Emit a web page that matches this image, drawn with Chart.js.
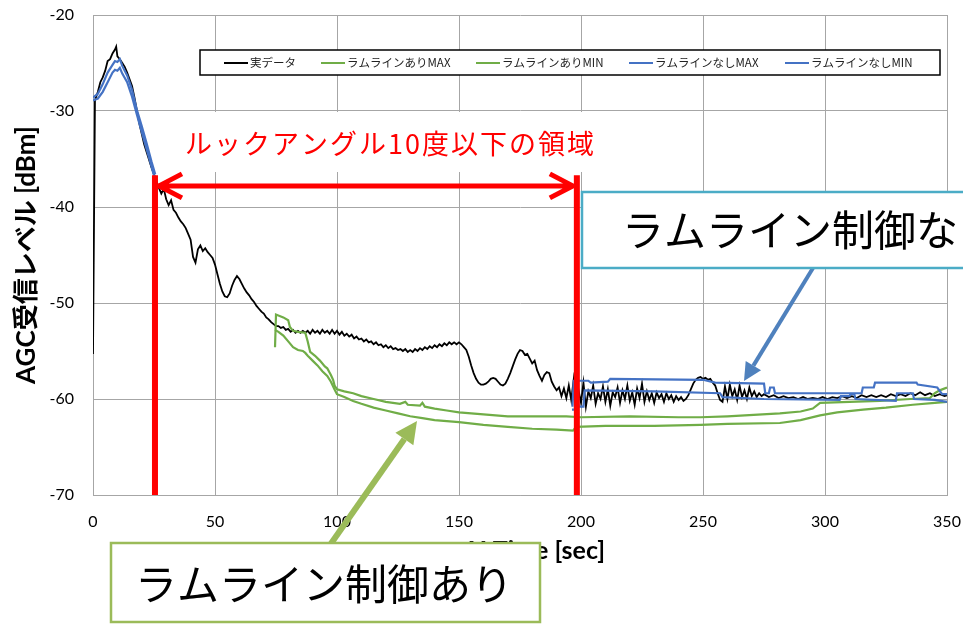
<!DOCTYPE html>
<html>
<head>
<meta charset="utf-8">
<script src="https://cdn.jsdelivr.net/npm/chart.js@4.4.0/dist/chart.umd.min.js"></script>
<style>
html, body { margin: 0; padding: 0; background: #fff; }
canvas { display: block; }
</style>
</head>
<body>
<canvas id="c" width="963" height="624"></canvas>
<script>
// axis ticks
const xTicks = [0, 50, 100, 150, 200, 250, 300, 350];
const yTicks = [-70, -60, -50, -40, -30, -20];

// 実データ (time [sec], level [dBm])
const realT = [0, 0.8, 2, 3, 4, 5, 6, 7, 8, 9, 9.5, 10, 11, 12, 13, 14, 15, 16, 17, 18, 19, 20,
  21, 22, 23, 24, 25, 26, 27, 28, 29, 30, 31, 32, 33, 34, 35, 36, 37, 38, 39, 40,
  41, 42, 43, 44, 45, 46, 47, 48, 49, 50, 51, 52, 53, 54, 55, 56, 57, 58, 59, 60,
  61, 62, 63, 64, 65, 66, 67, 68, 69, 70, 71, 72, 73, 74, 75, 76, 77, 78, 79, 80,
  81, 82, 83, 84, 85, 86, 87, 88, 89, 90, 91, 92, 93, 94, 95, 96, 97, 98, 99, 100,
  101, 102, 103, 104, 105, 106, 107, 108, 109, 110, 111, 112, 113, 114, 115, 116, 117, 118, 119, 120,
  121, 122, 123, 124, 125, 126, 127, 128, 129, 130, 131, 132, 133, 134, 135, 136, 137, 138, 139, 140,
  141, 142, 143, 144, 145, 146, 147, 148, 149, 150, 151, 152, 153, 154, 155, 156, 157, 158, 159, 160,
  161, 162, 163, 164, 165, 166, 167, 168, 169, 170, 171, 172, 173, 174, 175, 176, 177, 178, 179, 180,
  181, 182, 183, 184, 185, 186, 187, 188, 189, 190, 191, 192, 193, 194, 195, 196, 197, 198, 199, 200,
  201, 202, 203, 204, 205, 206, 207, 208, 209, 210, 211, 212, 213, 214, 215, 216, 217, 218, 219, 220,
  221, 222, 223, 224, 225, 226, 227, 228, 229, 230, 231, 232, 233, 234, 235, 236, 237, 238, 239, 240,
  241, 242, 243, 244, 245, 246, 247, 248, 249, 250, 251, 252, 253, 254, 255, 256, 257, 258, 259, 260,
  261, 262, 263, 264, 265, 266, 267, 268, 269, 270, 271, 272, 273, 274, 275, 277, 279, 281, 283, 285,
  287, 289, 291, 293, 295, 297, 299, 301, 303, 305, 307, 309, 311, 313, 315, 317, 319, 321, 323, 325,
  327, 329, 331, 333, 335, 337, 339, 341, 343, 345, 347, 349, 350];
const realV = [-55.3, -28.9, -28.0, -27.0, -26.5, -25.8, -24.8, -24.6, -24.0, -23.6, -23.3, -24.3, -24.6, -25.0, -25.4, -26.0, -26.7, -27.4, -28.6, -30.0, -31.3, -32.4,
  -33.5, -34.3, -35.1, -35.9, -36.6, -37.3, -38.0, -38.6, -38.1, -39.2, -39.8, -39.3, -40.3, -40.6, -41.1, -41.5, -41.8, -42.2, -42.8, -43.4,
  -45.2, -45.8, -44.4, -44.0, -44.6, -44.3, -44.7, -45.0, -45.3, -46.0, -47.0, -48.0, -48.8, -49.3, -49.4, -49.0, -48.2, -47.6, -47.2, -47.5,
  -48.0, -48.5, -48.9, -49.2, -49.6, -49.9, -50.3, -50.6, -50.9, -51.1, -51.5, -51.7, -52.0, -52.2, -52.4, -52.4, -52.6, -52.5, -52.8, -52.7,
  -53.0, -52.8, -53.1, -52.9, -53.1, -52.9, -53.1, -52.9, -53.2, -52.8, -53.1, -52.9, -53.2, -52.8, -53.1, -52.9, -53.2, -52.8, -53.2, -52.9,
  -53.3, -53.0, -53.4, -53.2, -53.5, -53.3, -53.7, -53.5, -53.8, -53.7, -54.0, -53.8, -54.1, -54.0, -54.3, -54.1, -54.4, -54.3, -54.6, -54.4,
  -54.7, -54.5, -54.8, -54.7, -54.9, -54.8, -55.0, -54.8, -55.1, -54.9, -55.1, -54.8, -55.0, -54.7, -54.9, -54.6, -54.8, -54.5, -54.7, -54.4,
  -54.6, -54.3, -54.5, -54.2, -54.4, -54.1, -54.3, -54.1, -54.3, -54.1, -54.3, -54.6, -54.9, -55.6, -56.5, -57.3, -57.9, -58.3, -58.5, -58.5,
  -58.4, -58.2, -57.9, -57.8, -57.9, -58.2, -58.5, -58.6, -58.4, -57.9, -57.3, -56.6, -55.9, -55.3, -54.9, -55.0, -55.4, -55.3, -55.8, -56.3,
  -56.0, -57.0, -57.6, -58.1, -57.5, -57.2, -57.3, -58.2, -58.7, -59.1, -58.8, -59.7, -58.9, -59.9, -58.6, -60.1, -58.0, -60.6, -59.1, -60.4,
  -58.3, -60.8, -59.2, -59.9, -58.6, -60.5, -59.4, -60.0, -58.7, -60.3, -59.0, -60.7, -59.3, -59.8, -58.8, -60.4, -59.1, -60.0, -58.6, -60.2,
  -59.3, -60.6, -58.9, -59.9, -58.4, -60.3, -59.2, -60.1, -59.4, -60.4, -59.3, -59.9, -59.5, -60.3, -59.4, -60.0, -59.6, -60.3, -59.7, -60.1,
  -59.8, -60.2, -60.0, -59.6, -59.0, -58.4, -58.0, -57.8, -57.7, -57.9, -57.8, -58.0, -57.9, -58.3, -58.6, -59.4, -60.1, -60.3, -58.7, -60.0,
  -58.5, -59.7, -59.0, -60.1, -58.6, -59.8, -59.1, -60.0, -58.8, -59.7, -59.2, -59.8, -59.4, -59.7, -59.5, -59.8, -59.6, -59.9, -59.7, -59.9,
  -59.8, -60.0, -59.8, -60.0, -59.9, -60.0, -59.8, -60.0, -59.8, -59.9, -59.7, -59.9, -59.7, -59.9, -59.6, -59.8, -59.6, -59.8, -59.6, -59.8,
  -59.5, -59.7, -59.5, -59.7, -59.4, -59.6, -59.3, -59.6, -59.4, -59.7, -59.5, -59.7, -59.6];

// ラムラインあり MAX / MIN
const ariMaxT = [74.6, 75, 78, 80, 80.7, 82, 84, 87, 88, 89, 91, 93, 95, 96, 97.5, 98.4, 99, 100, 103, 106.6,
  110, 115, 120, 125.8, 128, 129, 134, 135, 136, 140, 145, 150, 160, 170, 180, 194, 200, 220, 240, 249,
  260, 281.5, 290, 295, 298, 310, 322.5, 335, 343, 345, 347, 350];
const ariMaxV = [-54.6, -51.2, -51.5, -51.8, -52.5, -52.9, -53.0, -53.1, -54.0, -55.1, -55.5, -56.0, -56.6, -56.8, -57.5, -58.0, -58.6, -59.0, -59.2, -59.4,
  -59.7, -60.0, -60.3, -60.5, -60.3, -60.6, -60.7, -60.4, -60.8, -61.0, -61.2, -61.4, -61.6, -61.8, -61.8, -61.8, -61.9, -61.8, -61.9, -61.9,
  -61.8, -61.5, -61.3, -61.0, -60.4, -60.3, -60.2, -60.0, -59.9, -59.4, -59.1, -58.8];
const ariMinT = [74.6, 76, 78, 80, 82, 84, 86, 87, 88, 90, 92, 94, 96, 97.5, 99, 100, 103, 106.6, 110, 115,
  120, 125, 130, 135, 140, 150, 160, 170, 180, 190, 196.7, 198, 210, 230, 249, 260, 281.5, 290, 298, 305,
  315.6, 325, 336, 345, 350];
const ariMinV = [-52.8, -53.0, -53.4, -54.0, -54.6, -54.9, -55.0, -55.2, -55.5, -56.0, -56.5, -57.1, -57.6, -58.2, -59.0, -59.5, -59.8, -60.2, -60.5, -60.9,
  -61.2, -61.5, -61.8, -62.0, -62.2, -62.4, -62.7, -62.9, -63.1, -63.2, -63.3, -62.9, -62.8, -62.8, -62.7, -62.6, -62.5, -62.2, -61.7, -61.4,
  -61.1, -60.9, -60.6, -60.4, -60.3];

// ラムラインなし MAX / MIN (null = no data)
const nashiMaxT = [0, 2, 4, 6, 8, 9, 10, 11, 12, 14, 16, 18, 20, 22, 24, 25.5, 100,
  196.5, 197, 203, 204, 211, 212, 250, 255, 275, 275.5, 277, 277.5, 279, 279.5, 315, 315.5, 320, 320.5, 337.5, 338, 346, 348, 350];
const nashiMaxV = [-28.6, -28.2, -27.2, -26.0, -25.2, -24.8, -24.9, -24.6, -25.3, -26.3, -27.8, -29.9, -31.6, -33.4, -35.3, -36.6, null,
  -60.8, -58.1, -58.1, -58.3, -58.2, -57.9, -58.0, -58.3, -58.4, -59.4, -59.4, -58.8, -58.8, -59.4, -59.4, -58.8, -58.8, -58.3, -58.3, -58.5, -58.8, -59.5, -59.5];
const nashiMinT = [0, 2, 4, 6, 8, 9, 10, 11, 12, 14, 16, 18, 20, 22, 24, 25.5, 100,
  196.3, 197.5, 197.8, 198.5, 199, 201, 201.5, 230, 257, 258, 275, 306, 306.5, 310, 310.5, 312, 312.5, 329, 329.5, 336, 336.5, 345, 350];
const nashiMinV = [-28.9, -28.7, -28.0, -27.0, -26.0, -25.7, -25.8, -25.5, -26.1, -27.0, -28.5, -30.4, -32.2, -34.0, -35.8, -37.2, null,
  -61.1, -61.1, -58.9, -58.9, -60.8, -60.8, -59.1, -59.2, -59.4, -59.8, -60.0, -60.1, -59.7, -59.7, -59.5, -59.5, -60.0, -60.2, -59.4, -59.4, -60.0, -60.1, -60.3];

function pts(t, v) {
    return t.map((x, i) => ({ x: x, y: v[i] }));
}

const jp = "'Noto Sans CJK JP', sans-serif";
const lat = "Lato, 'Noto Sans CJK JP', sans-serif";
const gridColor = "#a6a6a6";

function arrow(c, x1, y1, x2, y2, len, half) {
    const a = Math.atan2(y2 - y1, x2 - x1);
    const bx = x2 - len * Math.cos(a), by = y2 - len * Math.sin(a);
    c.beginPath();
    c.moveTo(x1, y1);
    c.lineTo(bx, by);
    c.stroke();
    c.beginPath();
    c.moveTo(x2, y2);
    c.lineTo(bx + half * Math.sin(a), by - half * Math.cos(a));
    c.lineTo(bx - half * Math.sin(a), by + half * Math.cos(a));
    c.closePath();
    c.fill();
}

const annot = {
    id: "annot",
    afterDraw(chart) {
        const c = chart.ctx;
        const xs = chart.scales.x, ys = chart.scales.y;
        c.save();

        // legend
        c.fillStyle = "#fff";
        c.fillRect(200, 50, 740, 25);
        c.strokeStyle = "#000";
        c.lineWidth = 1.5;
        c.strokeRect(200, 50, 740, 25);
        const lx = [224, 321, 476, 629, 785];
        c.font = "11.5px " + jp;
        c.textBaseline = "middle";
        chart.data.datasets.forEach((d, i) => {
            c.strokeStyle = d.borderColor;
            c.lineWidth = 2;
            c.beginPath();
            c.moveTo(lx[i], 63);
            c.lineTo(lx[i] + 24, 63);
            c.stroke();
            c.fillStyle = "#222";
            c.fillText(d.label, lx[i] + 26, 63);
        });

        // look angle region label
        c.fillStyle = "#fff";
        c.fillRect(163, 112, 452, 60);
        c.fillStyle = "#ff0000";
        c.font = "27px " + jp;
        c.letterSpacing = "2px";
        c.fillText("ルックアングル10度以下の領域", 185, 144);
        c.letterSpacing = "0px";

        // red markers
        const xa = xs.getPixelForValue(25.4), xb = xs.getPixelForValue(198.3);
        const yTop = ys.getPixelForValue(-36.7), yArr = ys.getPixelForValue(-37.8);
        c.strokeStyle = "#ff0000";
        c.lineWidth = 6;
        c.beginPath();
        c.moveTo(xa, yTop); c.lineTo(xa, ys.bottom);
        c.moveTo(xb, yTop); c.lineTo(xb, ys.bottom);
        c.stroke();
        c.lineWidth = 5;
        c.lineJoin = "miter";
        c.beginPath();
        c.moveTo(xa + 3, yArr); c.lineTo(xb - 3, yArr);
        c.moveTo(xa + 27, yArr - 12); c.lineTo(xa + 4, yArr); c.lineTo(xa + 27, yArr + 12);
        c.moveTo(xb - 27, yArr - 12); c.lineTo(xb - 4, yArr); c.lineTo(xb - 27, yArr + 12);
        c.stroke();

        // x axis title
        c.fillStyle = "#000";
        c.font = "bold 25px " + lat;
        c.textAlign = "center";
        c.fillText("X-Time [sec]", 537, 551);
        c.textAlign = "left";

        // callout: with ram line control
        c.strokeStyle = "#9bbb59";
        c.fillStyle = "#9bbb59";
        c.lineWidth = 6;
        arrow(c, 330, 545, 417, 421, 22, 11);
        c.fillStyle = "#fff";
        c.fillRect(111, 543, 429, 79);
        c.lineWidth = 2.5;
        c.strokeRect(111, 543, 429, 79);
        c.fillStyle = "#000";
        c.font = "42px " + jp;
        c.fillText("ラムライン制御あり", 135, 584);

        // callout: without ram line control
        c.strokeStyle = "#4f81bd";
        c.fillStyle = "#4f81bd";
        c.lineWidth = 4;
        arrow(c, 813, 268, 744, 381, 18, 9);
        c.fillStyle = "#fff";
        c.fillRect(582, 192, 400, 76);
        c.strokeStyle = "#4bacc6";
        c.lineWidth = 2.5;
        c.strokeRect(582, 192, 400, 76);
        c.fillStyle = "#000";
        c.font = "42px " + jp;
        c.fillText("ラムライン制御なし", 622, 230);

        c.restore();
    }
};

new Chart(document.getElementById("c"), {
    type: "line",
    data: {
        datasets: [
            { label: "実データ", data: pts(realT, realV), borderColor: "#000000", borderWidth: 1.8, order: 5 },
            { label: "ラムラインありMAX", data: pts(ariMaxT, ariMaxV), borderColor: "#70ad47", borderWidth: 2.2, order: 4 },
            { label: "ラムラインありMIN", data: pts(ariMinT, ariMinV), borderColor: "#70ad47", borderWidth: 2.2, order: 3 },
            { label: "ラムラインなしMAX", data: pts(nashiMaxT, nashiMaxV), borderColor: "#4472c4", borderWidth: 2.2, order: 2 },
            { label: "ラムラインなしMIN", data: pts(nashiMinT, nashiMinV), borderColor: "#4472c4", borderWidth: 2.2, order: 1 },
        ],
    },
    options: {
        responsive: false,
        animation: false,
        devicePixelRatio: 1,
        layout: { padding: { top: 15, right: 16, left: 0, bottom: 0 } },
        elements: { point: { radius: 0 }, line: { tension: 0 } },
        plugins: { legend: { display: false }, tooltip: { enabled: false } },
        scales: {
            x: {
                type: "linear",
                min: 0,
                max: 350,
                afterBuildTicks: (s) => { s.ticks = xTicks.map((v) => ({ value: v })); },
                afterFit: (s) => { s.height = 129; s.paddingLeft = 0; s.paddingRight = 0; },
                grid: { color: gridColor, drawTicks: false },
                border: { color: gridColor },
                ticks: { padding: 17, color: "#000", font: { family: lat, size: 16 } },
            },
            y: {
                min: -70,
                max: -20,
                afterBuildTicks: (s) => { s.ticks = yTicks.map((v) => ({ value: v })); },
                afterFit: (s) => { s.width = 93; s.paddingTop = 0; s.paddingBottom = 0; },
                grid: { color: gridColor, drawTicks: false },
                border: { color: gridColor },
                ticks: { padding: 19, color: "#000", font: { family: lat, size: 16 } },
                title: {
                    display: true,
                    text: "AGC受信レベル [dBm]",
                    color: "#000",
                    font: { family: lat, size: 26, weight: "bold" },
                    padding: { top: 11, bottom: 0 },
                },
            },
        },
    },
    plugins: [annot],
});
</script>
</body>
</html>
